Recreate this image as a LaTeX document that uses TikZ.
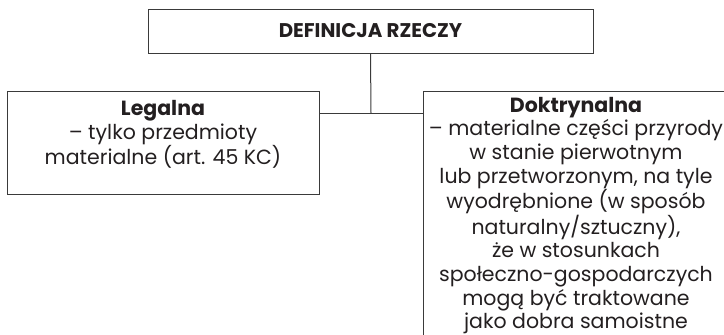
\documentclass[tikz,border=0pt]{standalone}
\usepackage{fontspec}
\setmainfont{Poppins}
\definecolor{linea}{HTML}{3A3A3A}
\definecolor{letra}{HTML}{231F20}
\begin{document}
\begin{tikzpicture}[x=1pt,y=-1pt]

% marco de la figura
\useasboundingbox (0,0) rectangle (724,335);
\clip (0,0) rectangle (724,335);

% estilos de linea y texto
\tikzstyle{caja}   = [draw=linea, line width=1pt, inner sep=0pt]
\tikzstyle{texto}  = [text=letra, align=center, inner sep=0pt, font=\fontsize{20.5}{23.6}\selectfont]
\tikzstyle{enlace} = [draw=linea, line width=1pt]

% cajas
\node[caja, minimum width=445pt, minimum height=44pt] (definicja) at (370.5,31) {};
\node[caja, minimum width=312pt, minimum height=103pt] (legalna) at (163,142.5) {};
\node[caja, anchor=north west, minimum width=306pt, minimum height=260pt] (doktrynalna) at (423,91) {};

% textos
\node[texto, font=\fontsize{19.8}{22}\selectfont\bfseries] (definicja-t) at (definicja) {DEFINICJA RZECZY};
\node[texto, anchor=north] (legalna-t) at (163,100.5) {\textbf{Legalna}\\– tylko przedmioty\\materialne (art. 45 KC)};
\node[texto, anchor=north] (doktrynalna-t) at (576,97) {\textbf{Doktrynalna}\\– materialne części przyrody\\w stanie pierwotnym\\lub przetworzonym, na tyle\\wyodrębnione (w sposób\\naturalny/sztuczny),\\że w stosunkach\\społeczno-gospodarczych\\mogą być traktowane\\jako dobra samoistne};

% enlaces
\coordinate (cruce) at (371,113);
\draw[enlace] (definicja.south) -- (cruce);
\draw[enlace] (legalna.east |- cruce) -- (doktrynalna.west |- cruce);

\end{tikzpicture}
\end{document}
